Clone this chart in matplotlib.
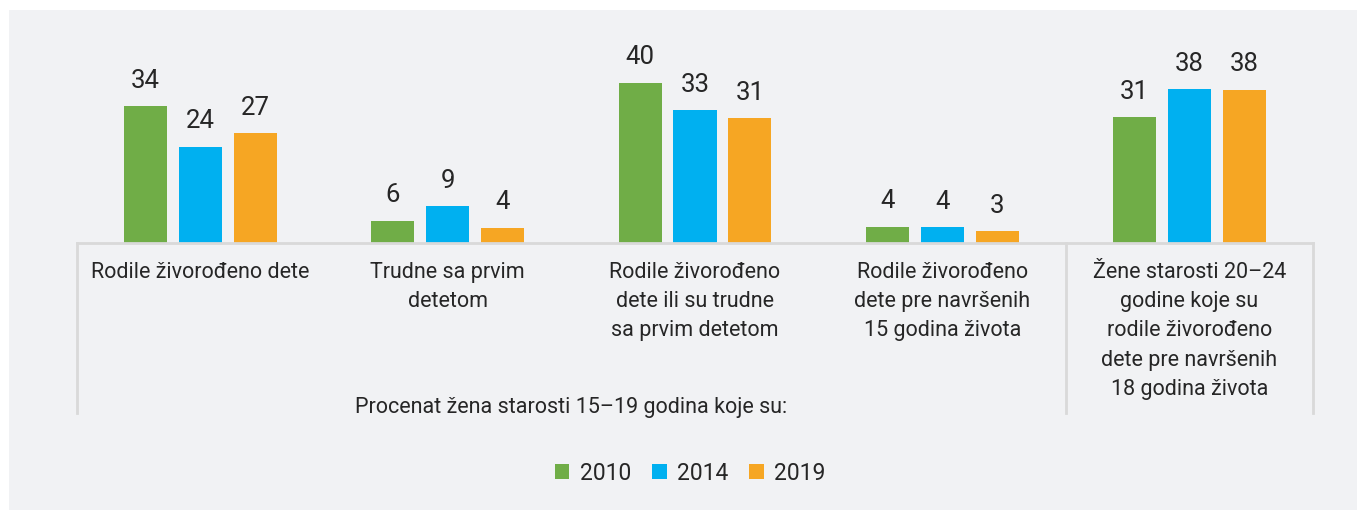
import numpy as np
import matplotlib
matplotlib.use("Agg")
import matplotlib.pyplot as plt
from matplotlib.patches import Rectangle

plt.rcParams['font.family'] = ['Roboto', 'DejaVu Sans']

##################################
##            DATA              ##
##################################

categories = [
    "Rodile živorođeno dete",
    "Trudne sa prvim\ndetetom",
    "Rodile živorođeno\ndete ili su trudne\nsa prvim detetom",
    "Rodile živorođeno\ndete pre navršenih\n15 godina života",
    "Žene starosti 20–24\ngodine koje su\nrodile živorođeno\ndete pre navršenih\n18 godina života",
]
years = ["2010", "2014", "2019"]
values_2010 = [34.2, 5.6, 40.0, 4.0, 31.4]
values_2014 = [24.0, 9.2, 33.2, 3.9, 38.4]
values_2019 = [27.4, 3.8, 31.2, 2.9, 38.3]
group_title = "Procenat žena starosti 15–19 godina koje su:"

colors = ["#70ad47", "#00b0f0", "#f6a623"]
TEXT = "#262626"
GRID = "#d9d9d9"

##################################
##            PLOT              ##
##################################

W, H = 1366, 512
fig = plt.figure(figsize=(W / 100, H / 100), dpi=100)
fig.patch.set_facecolor("white")
fig.patches.append(Rectangle((9 / W, 2 / H), 1348 / W, 500 / H, transform=fig.transFigure,
                             facecolor="#f1f2f4", edgecolor="none", zorder=-10))

# axes: x 77..1313 px, baseline at y=243 px, 4 px per unit
ax = fig.add_axes([77 / W, (H - 243) / H, 1236 / W, 200 / H])
ax.set_facecolor("none")
ax.set_zorder(5)
ax.set_xlim(-0.5, 4.5)
ax.set_ylim(0, 50)

x = np.arange(len(categories))
width = 0.174
step = 0.222
series = [values_2010, values_2014, values_2019]
for k, vals in enumerate(series):
    pos = x + (k - 1) * step
    ax.bar(pos, vals, width, color=colors[k], label=years[k], zorder=2)
    for px, v in zip(pos, vals):
        ax.text(px, v + 3.4, "%.0f" % v, ha="center", va="bottom", fontsize=18.5, color=TEXT)

for s in ["top", "right", "left"]:
    ax.spines[s].set_visible(False)
ax.spines["bottom"].set_color(GRID)
ax.spines["bottom"].set_linewidth(2)
ax.set_xticks([])
ax.set_yticks([])

# separators below the axis
for xv in [-0.5, 3.5, 4.5]:
    ax.plot([xv, xv], [0, -42.5], color=GRID, lw=2, clip_on=False)

for i, lab in enumerate(categories):
    ax.text(i, -4.7, lab, ha="center", va="top", fontsize=15.5, color=TEXT, linespacing=1.52)

ax.text(1.5, -41.0, group_title, ha="center", va="center", fontsize=15.5, color=TEXT)

leg = ax.legend(loc="center", bbox_to_anchor=(690 / W, (H - 473) / H), bbox_transform=fig.transFigure,
                ncol=3, frameon=False, fontsize=16.5, handlelength=0.65, handleheight=0.65,
                handletextpad=0.45, columnspacing=0.9, labelcolor=TEXT)

plt.savefig("out.png", dpi=100, facecolor=fig.get_facecolor())
plt.close()
